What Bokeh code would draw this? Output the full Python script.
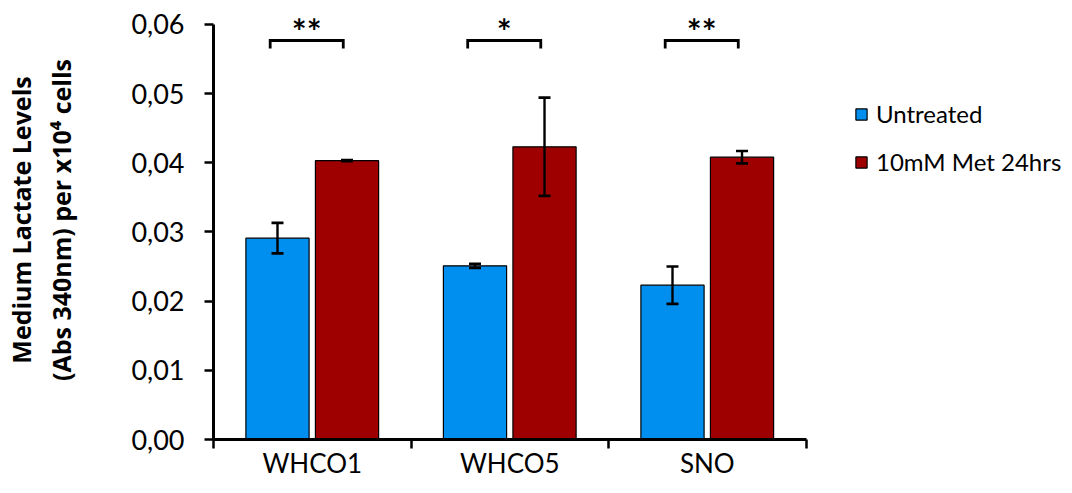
from bokeh.plotting import figure
from bokeh.models import (ColumnDataSource, FixedTicker, CustomJSTickFormatter,
                          Whisker, TeeHead, Legend, LegendItem)
from bokeh.core.properties import value
from bokeh.embed import file_html
from bokeh.resources import INLINE

# ---- data ----
categories = ["WHCO1", "WHCO5", "SNO"]
untreated = [0.0291, 0.0251, 0.0223]
untreated_err = [0.0022, 0.0003, 0.0027]
met = [0.0403, 0.0423, 0.0408]
met_err = [0.0001, 0.0071, 0.0009]
significance = ["**", "*", "**"]
y_ticks = [0.0, 0.01, 0.02, 0.03, 0.04, 0.05, 0.06]
series_names = ["Untreated", "10mM Met 24hrs"]
colors = ["#008FEF", "#9E0000"]

FONT = "Lato"
n = len(categories)
centers = [i + 0.5 for i in range(n)]
bounds_x = [float(i) for i in range(n + 1)]
off = 0.176
bw = 0.32

p = figure(width=1068, height=485, x_range=(0, 4.329), y_range=(0, 0.06344),
           output_backend="svg", toolbar_location=None,
           min_border_left=213, min_border_right=0, min_border_top=0,
           min_border_bottom=46)
p.outline_line_color = None
p.xgrid.visible = False
p.ygrid.visible = False
p.background_fill_color = "white"

src_u = ColumnDataSource(dict(x=[c - off for c in centers], top=untreated,
                              upper=[v + e for v, e in zip(untreated, untreated_err)],
                              lower=[v - e for v, e in zip(untreated, untreated_err)]))
src_m = ColumnDataSource(dict(x=[c + off for c in centers], top=met,
                              upper=[v + e for v, e in zip(met, met_err)],
                              lower=[v - e for v, e in zip(met, met_err)]))

r_u = p.vbar(x="x", top="top", width=bw, source=src_u, fill_color=colors[0],
             line_color="black", line_width=1.2)
r_m = p.vbar(x="x", top="top", width=bw, source=src_m, fill_color=colors[1],
             line_color="black", line_width=1.2)

for s in (src_u, src_m):
    w = Whisker(base="x", upper="upper", lower="lower", source=s,
                line_width=2.4, line_color="black", level="annotation",
                upper_head=TeeHead(size=12, line_width=2.6, line_color="black"),
                lower_head=TeeHead(size=12, line_width=2.6, line_color="black"))
    p.add_layout(w)

# significance brackets
b_top, b_bot = 0.05766, 0.0565
xs = [[c - 0.213, c - 0.213, c + 0.157, c + 0.157] for c in centers]
ys = [[b_bot, b_top, b_top, b_bot] for _ in centers]
p.multi_line(xs=xs, ys=ys, line_color="black", line_width=2.8, line_join="miter")
p.text(x=[c - 0.028 for c in centers], y=[0.0592] * n, text=significance,
       text_align="center", text_baseline="middle", text_font=value(FONT),
       text_font_size="35px", text_font_style="bold", text_color="black")

# y axis
ya = p.yaxis[0]
ya.ticker = FixedTicker(ticks=y_ticks, minor_ticks=[])
ya.bounds = (0, 0.06)
ya.formatter = CustomJSTickFormatter(code="return tick.toFixed(2).replace('.', ',');")
ya.axis_line_width = 3
ya.major_tick_line_width = 2.5
ya.major_tick_out = 9
ya.major_tick_in = 0
ya.minor_tick_out = 0
ya.minor_tick_in = 0
ya.major_label_standoff = 20
ya.major_label_text_font = FONT
ya.major_label_text_font_size = "27px"
ya.major_label_text_color = "black"
ya.axis_label = "Medium Lactate Levels\n(Abs 340nm) per x10\u2074 cells"
ya.axis_label_text_font = "Open Sans"
ya.axis_label_text_font_size = "25px"
ya.axis_label_text_font_style = "bold"
ya.axis_label_text_color = "black"
ya.axis_label_standoff = 50

# x axis
xa = p.xaxis[0]
xa.ticker = FixedTicker(ticks=centers, minor_ticks=bounds_x)
xa.formatter = CustomJSTickFormatter(args=dict(cats=categories),
                                     code="return cats[Math.floor(tick)];")
xa.bounds = (-0.048, float(n))
xa.axis_line_width = 3
xa.major_tick_out = 0
xa.major_tick_in = 0
xa.minor_tick_out = 9
xa.minor_tick_in = 0
xa.minor_tick_line_width = 2.5
xa.major_label_standoff = -2
xa.axis_label_standoff = 0
xa.major_label_text_font = FONT
xa.major_label_text_font_size = "26px"
xa.major_label_text_color = "black"

legend = Legend(items=[LegendItem(label=series_names[0], renderers=[r_u]),
                       LegendItem(label=series_names[1], renderers=[r_m])],
                location=(641, 263), orientation="vertical")
legend.padding = 0
legend.margin = 0
legend.border_line_alpha = 0
legend.background_fill_alpha = 0
legend.glyph_width = 14
legend.glyph_height = 14
legend.label_height = 28
legend.spacing = 19
legend.label_standoff = 8
legend.label_text_font = FONT
legend.label_text_font_size = "24px"
legend.label_text_color = "black"
p.add_layout(legend)

open("out.html", "w").write(file_html(p, INLINE))
